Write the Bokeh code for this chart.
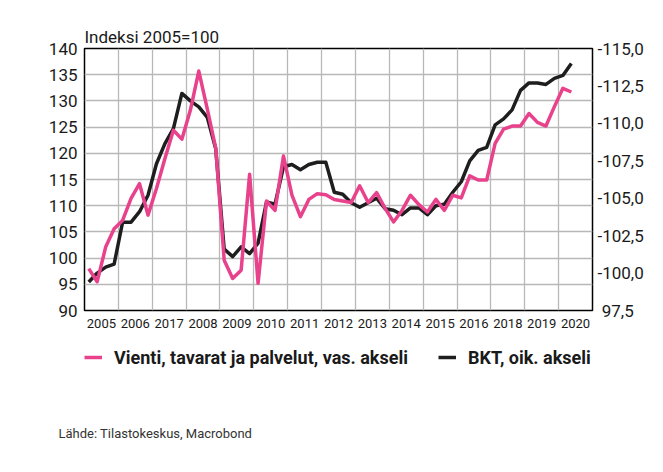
from bokeh.plotting import figure
from bokeh.layouts import column
from bokeh.models import (Range1d, LinearAxis, FixedTicker, Legend,
                          LegendItem, ColumnDataSource, Title)
from bokeh.embed import file_html
from bokeh.resources import INLINE

# ---- data -------------------------------------------------------------
year_labels = ["2005", "2006", "2017", "2008", "2009", "2010", "2011", "2012",
               "2013", "2014", "2015", "2016", "2018", "2019", "2020"]

# Vienti, tavarat ja palvelut (left axis), quarterly
vienti = [98.0, 95.5, 102.1, 105.6, 107.2, 111.4, 114.2, 108.2,
          113.3, 119.0, 124.4, 122.7, 128.2, 135.7, 128.5, 121.0,
          99.6, 96.1, 97.7, 116.0, 95.2, 110.9, 109.1, 119.5,
          112.0, 107.9, 111.2, 112.3, 112.1, 111.2, 110.9, 110.6,
          113.8, 110.6, 112.5, 109.5, 106.9, 109.1, 112.0, 110.2,
          108.8, 111.2, 109.1, 112.0, 111.5, 115.7, 114.9, 114.9,
          121.9, 124.6, 125.2, 125.2, 127.6, 125.9, 125.2, 128.9,
          132.4, 131.7]

# BKT (right axis), quarterly
bkt = [99.4, 100.0, 100.4, 100.6, 103.4, 103.4, 104.1, 105.2,
       107.3, 108.65, 109.65, 112.0, 111.5, 111.1, 110.4, 108.3,
       101.6, 101.1, 101.75, 101.3, 102.0, 104.75, 104.6, 107.1,
       107.25, 106.9, 107.25, 107.4, 107.4, 105.4, 105.27, 104.7,
       104.4, 104.7, 105.0, 104.3, 104.2, 103.9, 104.35, 104.35,
       103.9, 104.5, 104.6, 105.4, 106.1, 107.5, 108.2, 108.4,
       109.9, 110.3, 110.9, 112.2, 112.7, 112.7, 112.6, 113.0,
       113.2, 114.0]

left_ticks = [90, 95, 100, 105, 110, 115, 120, 125, 130, 135, 140]
right_ticks = [97.5, 100.0, 102.5, 105.0, 107.5, 110.0, 112.5, 115.0]
right_labels = ["\u00a097,5", "-100,0", "-102,5", "-105,0", "-107,5",
                "-110,0", "-112,5", "-115,0"]

title_text = "Indeksi 2005=100"
legend_labels = ["Vienti, tavarat ja palvelut, vas. akseli", "BKT, oik. akseli"]
source_text = "Lähde: Tilastokeskus, Macrobond"

# ---- styling ----------------------------------------------------------
FONT = "Roboto"
PINK = "#e8428c"
DARK = "#1e1e1e"
GRID = "#b8b8b8"
TXT = "#1a1a1a"
LW = 3.5

x = [(i + 0.5) / 4 for i in range(len(vienti))]
src = ColumnDataSource(dict(x=x, vienti=vienti, bkt=bkt))

p = figure(width=663, height=340, output_backend="svg", toolbar_location=None,
           x_range=Range1d(0, len(year_labels)), y_range=Range1d(90, 140),
           min_border_left=84, min_border_right=71, min_border_top=48,
           min_border_bottom=30)
p.extra_y_ranges = {"gdp": Range1d(97.5, 115.0)}
p.background_fill_color = "white"
p.border_fill_color = "white"
p.outline_line_color = "black"
p.outline_line_width = 1.5
p.outline_line_alpha = 1.0

# title (top-left of the frame)
p.title.text = title_text
p.title.align = "left"
p.title.text_font = FONT
p.title.text_font_size = "17px"
p.title.text_font_style = "normal"
p.title.text_color = TXT
p.title.standoff = 4

# grids
p.xgrid.ticker = FixedTicker(ticks=list(range(1, len(year_labels))))
p.xgrid.grid_line_color = GRID
p.xgrid.grid_line_width = 1.3
p.ygrid.ticker = FixedTicker(ticks=left_ticks)
p.ygrid.grid_line_color = GRID
p.ygrid.grid_line_width = 1.3

# x axis
xa = p.xaxis[0]
xa.ticker = FixedTicker(ticks=[k + 0.5 for k in range(len(year_labels))])
xa.major_label_overrides = {k + 0.5: lab for k, lab in enumerate(year_labels)}
xa.major_label_text_font = FONT
xa.major_label_text_font_size = "13px"
xa.major_label_text_color = TXT
xa.major_label_standoff = 8
xa.major_tick_out = 0
xa.major_tick_in = 0
xa.major_tick_line_color = None
xa.minor_tick_line_color = None
xa.axis_line_color = None

# left axis
ya = p.yaxis[0]
ya.ticker = FixedTicker(ticks=left_ticks)
ya.major_label_text_font = FONT
ya.major_label_text_font_size = "17px"
ya.major_label_text_color = TXT
ya.major_label_standoff = 7
ya.major_tick_out = 0
ya.major_tick_in = 0
ya.major_tick_line_color = None
ya.minor_tick_line_color = None
ya.axis_line_color = None

# right axis
ra = LinearAxis(y_range_name="gdp",
                ticker=FixedTicker(ticks=right_ticks),
                major_label_overrides={t: l for t, l in zip(right_ticks, right_labels)})
ra.major_label_text_font = FONT
ra.major_label_text_font_size = "17px"
ra.major_label_text_color = TXT
ra.major_label_standoff = 5
ra.major_tick_out = 0
ra.major_tick_in = 0
ra.major_tick_line_color = None
ra.minor_tick_line_color = None
ra.axis_line_color = None
p.add_layout(ra, "right")

# lines
p.line("x", "bkt", source=src, y_range_name="gdp",
       line_color=DARK, line_width=LW, line_join="round")
p.line("x", "vienti", source=src,
       line_color=PINK, line_width=LW, line_join="round")

# ---- footer figure: legend + source --------------------------------------
FOOT_H = 101
f = figure(width=663, height=FOOT_H, output_backend="svg", toolbar_location=None,
           x_range=Range1d(0, 1), y_range=Range1d(0, 1),
           x_axis_type=None, y_axis_type=None, min_border=0)
f.grid.visible = False
f.outline_line_color = None
f.background_fill_color = "white"
f.border_fill_color = "white"

nan = float("nan")
proxy = ColumnDataSource(dict(x=[nan], y=[nan]))
lg_v = f.line("x", "y", source=proxy, line_color=PINK, line_width=LW)
lg_b = f.line("x", "y", source=proxy, line_color=DARK, line_width=LW)

legend = Legend(items=[LegendItem(label=legend_labels[0], renderers=[lg_v]),
                       LegendItem(label=legend_labels[1], renderers=[lg_b])],
                orientation="horizontal", location="top_left",
                label_text_font=FONT, label_text_font_size="18px",
                label_text_font_style="bold", label_text_color=TXT,
                glyph_width=18, glyph_height=34, label_height=34,
                label_standoff=12, spacing=30, padding=0, margin=0,
                border_line_color=None, background_fill_alpha=0)
f.add_layout(legend)

f.add_layout(Title(text=source_text, align="left", offset=-26,
                   text_font=FONT, text_font_size="13px",
                   text_font_style="normal", text_color="#333333",
                   vertical_align="middle", standoff=0), "below")

layout = column(p, f, spacing=0)

open("out.html", "w").write(file_html(layout, INLINE))
